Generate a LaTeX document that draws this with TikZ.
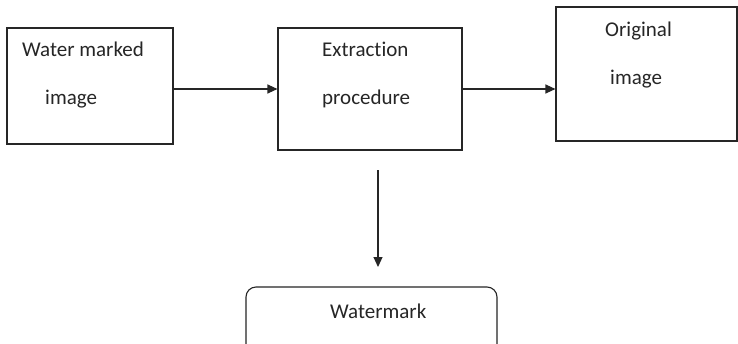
\documentclass[tikz,border=0pt]{standalone}
\usepackage{fontspec}
\setmainfont[Ligatures=NoCommon]{Carlito}
\usetikzlibrary{arrows.meta}
\definecolor{ink}{HTML}{262626}
\tikzset{
  boxnode/.style={draw=ink, line width=1.1pt, rectangle, inner sep=0pt},
  label/.style={inner sep=0pt, anchor=base west, text=ink, font=\fontsize{21}{24}\selectfont},
  arr/.style={draw=ink, line width=1.1pt, -{Triangle[length=10pt,width=9pt]}}
}
\begin{document}
\begin{tikzpicture}[x=1pt,y=-1pt]
\useasboundingbox (0,0) rectangle (738,343);
\clip (0,0) rectangle (738,343);
\fill[white] (0,0) rectangle (738,343);
\node[boxnode, minimum width=166pt, minimum height=116pt] (box1) at (90,86) {};
\node[boxnode, minimum width=184pt, minimum height=122pt] (box2) at (370,89) {};
\node[boxnode, minimum width=181pt, minimum height=134pt] (box3) at (646.5,74) {};
\node[boxnode, rounded corners=10pt, minimum width=251pt, minimum height=70pt] (box4) at (371.5,322) {};
\node[label] (t1a) at (22,56) {Water marked};
\node[label] (t1b) at (45,104) {image};
\node[label] (t2a) at (322,56) {Extraction};
\node[label] (t2b) at (322,104) {procedure};
\node[label] (t3a) at (605,36) {Original};
\node[label] (t3b) at (610,84) {image};
\node[label] (t4) at (330,318) {Watermark};
\coordinate (vtop) at (378,170);
\coordinate (vend) at (378,267);
\draw[arr] (box1.east |- box2.west) -- (box2.west);
\draw[arr] (box2.east) -- (box3.west |- box2.east);
\draw[arr] (vtop) -- (vend);
\end{tikzpicture}
\end{document}
